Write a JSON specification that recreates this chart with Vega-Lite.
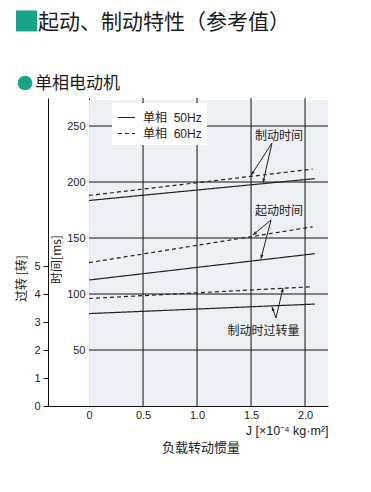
{
  "$schema": "https://vega.github.io/schema/vega-lite/v6.json",
  "width": 280,
  "height": 308,
  "autosize": {"type": "none"},
  "padding": {"left": 48, "top": 98, "right": 43, "bottom": 86},
  "background": "white",
  "config": {
    "view": {"stroke": null},
    "axis": {
      "labelFont": "Liberation Sans",
      "labelFontSize": 11,
      "labelColor": "#222",
      "domainColor": "#111",
      "tickColor": "#111",
      "titleFont": "Noto Sans CJK SC",
      "titleFontWeight": "normal",
      "titleFontSize": 12,
      "titleColor": "#222",
      "grid": false,
      "zindex": 1
    }
  },
  "datasets": {
    "time": [
      {"curve": "制动时间", "freq": "单相 \u00a050Hz", "j": 0, "t": 183.5},
      {"curve": "制动时间", "freq": "单相 \u00a050Hz", "j": 2.09, "t": 203},
      {"curve": "制动时间", "freq": "单相 \u00a060Hz", "j": 0, "t": 188},
      {"curve": "制动时间", "freq": "单相 \u00a060Hz", "j": 2.07, "t": 211.5},
      {"curve": "起动时间", "freq": "单相 \u00a050Hz", "j": 0, "t": 112.5},
      {"curve": "起动时间", "freq": "单相 \u00a050Hz", "j": 2.09, "t": 136},
      {"curve": "起动时间", "freq": "单相 \u00a060Hz", "j": 0, "t": 128},
      {"curve": "起动时间", "freq": "单相 \u00a060Hz", "j": 2.07, "t": 160}
    ],
    "turns": [
      {"freq": "单相 \u00a050Hz", "j": 0, "n": 3.30},
      {"freq": "单相 \u00a050Hz", "j": 2.09, "n": 3.64},
      {"freq": "单相 \u00a060Hz", "j": 0, "n": 3.84},
      {"freq": "单相 \u00a060Hz", "j": 2.07, "n": 4.26}
    ],
    "hgrid": [{"t": 50}, {"t": 100}, {"t": 150}, {"t": 200}, {"t": 250}],
    "vgrid": [{"j": 0.5}, {"j": 1.0}, {"j": 1.5}, {"j": 2.0}],
    "arrows": [
      {"id": "a1", "j": 1.694, "t": 234.8, "j2": 1.500, "t2": 206},
      {"id": "a2", "j": 1.694, "t": 234.8, "j2": 1.611, "t2": 199.5},
      {"id": "a3", "j": 1.685, "t": 166.1, "j2": 1.518, "t2": 152.7},
      {"id": "a4", "j": 1.685, "t": 166.1, "j2": 1.592, "t2": 131.5},
      {"id": "a5", "j": 1.731, "t": 78.6, "j2": 1.796, "t2": 105.4},
      {"id": "a6", "j": 1.731, "t": 78.6, "j2": 1.694, "t2": 88.4}
    ],
    "notes": [
      {"role": "note", "label": "制动时间", "j": 1.759, "t": 241},
      {"role": "note", "label": "起动时间", "j": 1.759, "t": 174.1},
      {"role": "note", "label": "制动时过转量", "j": 1.616, "t": 67},
      {"role": "xlabel", "label": "负载转动惯量", "j": 1.037, "t": -37.5},
      {"role": "title", "label": "起动、制动特性（参考值）", "j": -0.4726, "t": 342.2},
      {"role": "subtitle", "label": "单相电动机", "j": -0.5004, "t": 287.5}
    ],
    "badges": [
      {"role": "title", "j": -0.579, "t": 343.8},
      {"role": "subtitle", "j": -0.593, "t": 288.4}
    ]
  },
  "layer": [
    {
      "layer": [
        {
          "data": {"values": [{}]},
          "mark": {"type": "rect", "color": "#edf1f6"},
          "encoding": {
            "x": {"datum": 0, "type": "quantitative"},
            "x2": {"datum": 2.2126},
            "y": {"datum": 0, "type": "quantitative"},
            "y2": {"datum": 273.2}
          }
        },
        {
          "data": {"name": "hgrid"},
          "mark": {"type": "rule", "color": "#111", "strokeWidth": 1},
          "encoding": {
            "x": {"datum": 0, "type": "quantitative"},
            "x2": {"datum": 2.2126},
            "y": {"field": "t", "type": "quantitative"}
          }
        },
        {
          "data": {"name": "vgrid"},
          "mark": {"type": "rule", "color": "#111", "strokeWidth": 1},
          "encoding": {
            "x": {"field": "j", "type": "quantitative"},
            "y": {"datum": 0, "type": "quantitative"},
            "y2": {"datum": 275}
          }
        },
        {
          "data": {"name": "time"},
          "mark": {"type": "line", "color": "#222", "strokeWidth": 1.2},
          "encoding": {
            "x": {
              "field": "j",
              "type": "quantitative",
              "scale": {"domain": [-0.38, 2.2126], "nice": false, "zero": false},
              "axis": {
                "values": [0, 0.5, 1, 1.5, 2],
                "labelExpr": "datum.value == 0 ? '0' : format(datum.value, '.1f')",
                "ticks": false,
                "labelPadding": 3,
                "labelFlush": false,
                "title": "J [×10⁻⁴ kg·m²]",
                "titleFont": "Liberation Sans",
                "titleFontSize": 12.5,
                "titleX": 280,
                "titleY": 18,
                "titleAlign": "right",
                "titleBaseline": "top"
              }
            },
            "y": {
              "field": "t",
              "type": "quantitative",
              "scale": {"domain": [0, 275], "nice": false, "zero": false},
              "axis": {
                "orient": "left",
                "offset": -41,
                "values": [50, 100, 150, 200, 250],
                "ticks": false,
                "labelPadding": 4,
                "title": "时间[ms]",
                "titleX": -26,
                "titleY": 161,
                "titleAngle": 270,
                "titleAlign": "center",
                "titleBaseline": "bottom"
              }
            },
            "detail": {"field": "curve"},
            "strokeDash": {
              "field": "freq",
              "type": "nominal",
              "scale": {"domain": ["单相 \u00a050Hz", "单相 \u00a060Hz"], "range": [[1, 0], [4, 3]]},
              "legend": {
                "title": null,
                "orient": "none",
                "legendX": 64,
                "legendY": 5,
                "fillColor": "white",
                "padding": 5,
                "symbolType": "stroke",
                "symbolSize": 289,
                "symbolStrokeWidth": 1.2,
                "symbolStrokeColor": "#222",
                "labelOffset": 7,
                "labelFont": "Liberation Sans, Noto Sans CJK SC",
                "labelFontSize": 12,
                "labelColor": "#222",
                "rowPadding": 0,
                "zindex": 2
              }
            }
          }
        },
        {
          "data": {"name": "arrows"},
          "mark": {"type": "rule", "color": "#222", "strokeWidth": 1},
          "encoding": {
            "x": {"field": "j", "type": "quantitative"},
            "y": {"field": "t", "type": "quantitative"},
            "x2": {"field": "j2"},
            "y2": {"field": "t2"}
          }
        },
        {
          "data": {"name": "arrows"},
          "transform": [{"filter": "datum.id == 'a1'"}],
          "mark": {"type": "point", "shape": "M0,0L-0.4,1L0.4,1Z", "filled": true, "color": "#222", "opacity": 1, "size": 64, "angle": 213.3},
          "encoding": {"x": {"field": "j2", "type": "quantitative"}, "y": {"field": "t2", "type": "quantitative"}}
        },
        {
          "data": {"name": "arrows"},
          "transform": [{"filter": "datum.id == 'a2'"}],
          "mark": {"type": "point", "shape": "M0,0L-0.4,1L0.4,1Z", "filled": true, "color": "#222", "opacity": 1, "size": 64, "angle": 193.3},
          "encoding": {"x": {"field": "j2", "type": "quantitative"}, "y": {"field": "t2", "type": "quantitative"}}
        },
        {
          "data": {"name": "arrows"},
          "transform": [{"filter": "datum.id == 'a3'"}],
          "mark": {"type": "point", "shape": "M0,0L-0.4,1L0.4,1Z", "filled": true, "color": "#222", "opacity": 1, "size": 64, "angle": 230.2},
          "encoding": {"x": {"field": "j2", "type": "quantitative"}, "y": {"field": "t2", "type": "quantitative"}}
        },
        {
          "data": {"name": "arrows"},
          "transform": [{"filter": "datum.id == 'a4'"}],
          "mark": {"type": "point", "shape": "M0,0L-0.4,1L0.4,1Z", "filled": true, "color": "#222", "opacity": 1, "size": 64, "angle": 194.4},
          "encoding": {"x": {"field": "j2", "type": "quantitative"}, "y": {"field": "t2", "type": "quantitative"}}
        },
        {
          "data": {"name": "arrows"},
          "transform": [{"filter": "datum.id == 'a5'"}],
          "mark": {"type": "point", "shape": "M0,0L-0.4,1L0.4,1Z", "filled": true, "color": "#222", "opacity": 1, "size": 64, "angle": 13.1},
          "encoding": {"x": {"field": "j2", "type": "quantitative"}, "y": {"field": "t2", "type": "quantitative"}}
        },
        {
          "data": {"name": "arrows"},
          "transform": [{"filter": "datum.id == 'a6'"}],
          "mark": {"type": "point", "shape": "M0,0L-0.4,1L0.4,1Z", "filled": true, "color": "#222", "opacity": 1, "size": 64, "angle": 340},
          "encoding": {"x": {"field": "j2", "type": "quantitative"}, "y": {"field": "t2", "type": "quantitative"}}
        },
        {
          "data": {"name": "notes"},
          "transform": [{"filter": "datum.role == 'note'"}],
          "mark": {"type": "text", "font": "Noto Sans CJK SC", "fontSize": 12, "color": "#222", "align": "center", "baseline": "middle"},
          "encoding": {"x": {"field": "j", "type": "quantitative"}, "y": {"field": "t", "type": "quantitative"}, "text": {"field": "label"}}
        },
        {
          "data": {"name": "notes"},
          "transform": [{"filter": "datum.role == 'xlabel'"}],
          "mark": {"type": "text", "font": "Noto Sans CJK SC", "fontSize": 13, "color": "#222", "align": "center", "baseline": "middle", "clip": false},
          "encoding": {"x": {"field": "j", "type": "quantitative"}, "y": {"field": "t", "type": "quantitative"}, "text": {"field": "label"}}
        },
        {
          "data": {"name": "notes"},
          "transform": [{"filter": "datum.role == 'title'"}],
          "mark": {"type": "text", "font": "Noto Sans CJK SC", "fontSize": 21, "color": "#1a1a1a", "align": "left", "baseline": "middle", "clip": false},
          "encoding": {"x": {"field": "j", "type": "quantitative"}, "y": {"field": "t", "type": "quantitative"}, "text": {"field": "label"}}
        },
        {
          "data": {"name": "notes"},
          "transform": [{"filter": "datum.role == 'subtitle'"}],
          "mark": {"type": "text", "font": "Noto Sans CJK SC", "fontSize": 17, "color": "#1a1a1a", "align": "left", "baseline": "middle", "clip": false},
          "encoding": {"x": {"field": "j", "type": "quantitative"}, "y": {"field": "t", "type": "quantitative"}, "text": {"field": "label"}}
        },
        {
          "data": {"name": "badges"},
          "transform": [{"filter": "datum.role == 'title'"}],
          "mark": {"type": "point", "shape": "square", "filled": true, "color": "#17a487", "opacity": 1, "size": 441, "clip": false},
          "encoding": {"x": {"field": "j", "type": "quantitative"}, "y": {"field": "t", "type": "quantitative"}}
        },
        {
          "data": {"name": "badges"},
          "transform": [{"filter": "datum.role == 'subtitle'"}],
          "mark": {"type": "point", "shape": "circle", "filled": true, "color": "#17a487", "opacity": 1, "size": 214, "clip": false},
          "encoding": {"x": {"field": "j", "type": "quantitative"}, "y": {"field": "t", "type": "quantitative"}}
        }
      ]
    },
    {
      "data": {"name": "turns"},
      "mark": {"type": "line", "color": "#222", "strokeWidth": 1.2},
      "encoding": {
        "x": {"field": "j", "type": "quantitative"},
        "y": {
          "field": "n",
          "type": "quantitative",
          "scale": {"domain": [0, 11], "nice": false, "zero": false},
          "axis": {
            "orient": "left",
            "values": [0, 1, 2, 3, 4, 5],
            "tickSize": 5,
            "labelPadding": 3,
            "title": "过转 [转]",
            "titleX": -20,
            "titleY": 180,
            "titleAngle": 270,
            "titleAlign": "center",
            "titleBaseline": "bottom"
          }
        },
        "strokeDash": {"field": "freq", "type": "nominal"}
      }
    }
  ],
  "resolve": {"scale": {"y": "independent"}}
}
